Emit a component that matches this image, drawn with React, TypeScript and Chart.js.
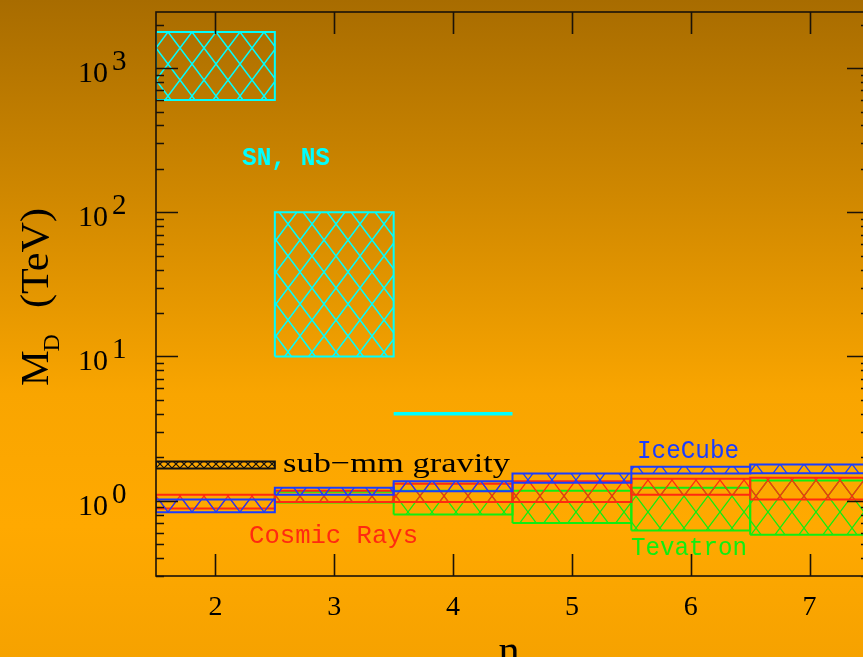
import React, { useEffect, useRef } from "react";
import { Chart, registerables } from "chart.js";
Chart.register(...registerables);

// ---- data ----
const nValues = [2, 3, 4, 5, 6, 7];
const cosmicLow = [0.88, 0.98, 0.98, 0.98, 1.1, 1.02];
const cosmicHigh = [1.1, 1.17, 1.31, 1.36, 1.42, 1.44];
const iceCubeLow = [0.83, 1.1, 1.16, 1.33, 1.54, 1.55];
const iceCubeHigh = [1.02, 1.23, 1.36, 1.54, 1.72, 1.78];
const tevatronN = [3, 4, 5, 6, 7];
const tevatronLow = [0.97, 0.8, 0.7, 0.62, 0.58];
const tevatronHigh = [1.15, 1.17, 1.17, 1.23, 1.38];
const snN = [2, 3];
const snLow = [600, 10];
const snHigh = [1780, 100];
const snLineN = [4];
const snLineValue = [4.0];
const subMmN = [2];
const subMmLow = [1.67];
const subMmHigh = [1.87];
const xTicks = [2, 3, 4, 5, 6, 7];
const yDecades = [0, 1, 2, 3];

const X_MIN = 1.5;
const X_MAX = 7.5;
const Y_MIN = 0.3;
const Y_MAX = 2450;

// annotation texts
const annotations = [
  { text: "SN, NS", n: 2.224, v: 212, color: "#00ffff", font: "bold 25px 'Liberation Mono'", width: 88 },
  { text: "sub\u2212mm gravity", n: 2.569, v: 1.59, color: "#000000", font: "28px 'Liberation Serif'", width: 227 },
  { text: "Cosmic Rays", n: 2.283, v: 0.51, color: "#ff2a10", font: "25px 'Liberation Mono'", width: 169 },
  { text: "IceCube", n: 5.548, v: 1.96, color: "#1a3cff", font: "25px 'Liberation Mono'", width: 102 },
  { text: "Tevatron", n: 5.497, v: 0.42, color: "#10ee10", font: "25px 'Liberation Mono'", width: 116 },
];

function boxPoints(n: number, lo: number, hi: number) {
  return [
    { x: n - 0.5, y: lo },
    { x: n + 0.5, y: lo },
    { x: n + 0.5, y: hi },
    { x: n - 0.5, y: hi },
    { x: n - 0.5, y: lo },
  ];
}

function makeHatch(color: string, w: number, h: number, lw: number) {
  const c = document.createElement("canvas");
  c.width = w;
  c.height = h;
  const g = c.getContext("2d")!;
  g.strokeStyle = color;
  g.lineWidth = lw;
  g.beginPath();
  g.moveTo(0, 0);
  g.lineTo(w, h);
  g.moveTo(0, h);
  g.lineTo(w, 0);
  g.stroke();
  return g.createPattern(c, "repeat")!;
}

function drawStretched(ctx: CanvasRenderingContext2D, text: string, x: number, y: number, width: number) {
  const m = ctx.measureText(text).width;
  ctx.save();
  ctx.translate(x, y);
  ctx.scale(width / m, 1);
  ctx.fillText(text, 0, 0);
  ctx.restore();
}

const bgPlugin = {
  id: "bg",
  beforeDraw(chart: any) {
    const { ctx, width, height } = chart;
    const g = ctx.createLinearGradient(0, 0, 0, height);
    g.addColorStop(0, "#a86c00");
    g.addColorStop(0.3, "#d08800");
    g.addColorStop(0.6, "#f9a500");
    g.addColorStop(0.8, "#ffa900");
    g.addColorStop(1, "#f6a200");
    ctx.save();
    ctx.fillStyle = g;
    ctx.fillRect(0, 0, width, height);
    ctx.restore();
  },
};

const framePlugin = {
  id: "frame",
  afterDatasetsDraw(chart: any) {
    const { ctx, chartArea } = chart;
    const { left, right, top, bottom } = chartArea;
    const xs = chart.scales.x;
    const ys = chart.scales.y;
    ctx.save();
    ctx.strokeStyle = "#1a1208";
    ctx.lineWidth = 1.6;
    ctx.strokeRect(left, top, right - left, bottom - top);
    ctx.beginPath();
    for (const v of xTicks) {
      const px = Math.round(xs.getPixelForValue(v)) + 0.5;
      ctx.moveTo(px, bottom);
      ctx.lineTo(px, bottom - 22);
      ctx.moveTo(px, top);
      ctx.lineTo(px, top + 22);
    }
    for (let d = -1; d <= 3; d++) {
      for (let m = 1; m <= 9; m++) {
        const val = m * Math.pow(10, d);
        if (val < Y_MIN - 1e-9 || val > Y_MAX) continue;
        const py = Math.round(ys.getPixelForValue(val)) + 0.5;
        const len = m === 1 ? 22 : 8;
        ctx.moveTo(left, py);
        ctx.lineTo(left + len, py);
        ctx.moveTo(right, py);
        ctx.lineTo(right - len, py);
      }
    }
    ctx.stroke();

    // tick labels
    ctx.fillStyle = "#000";
    ctx.textBaseline = "alphabetic";
    ctx.font = "28px 'Liberation Serif'";
    ctx.textAlign = "center";
    for (const v of xTicks) {
      const px = xs.getPixelForValue(v);
      ctx.fillText(String(v), px, 615);
    }
    for (const d of yDecades) {
      const py = ys.getPixelForValue(Math.pow(10, d));
      ctx.font = "30px 'Liberation Serif'";
      ctx.textAlign = "right";
      ctx.fillText("10", 108, py + 14);
      ctx.textAlign = "left";
      ctx.font = "29px 'Liberation Serif'";
      ctx.fillText(String(d), 112, py + 2);
    }

    // axis titles
    ctx.save();
    ctx.translate(48, 386);
    ctx.rotate(-Math.PI / 2);
    ctx.textAlign = "left";
    ctx.font = "40px 'Liberation Serif'";
    ctx.fillText("M", 0, 0);
    const mw = ctx.measureText("M").width;
    ctx.font = "24px 'Liberation Serif'";
    ctx.fillText("D", mw - 1, 11);
    ctx.font = "40px 'Liberation Serif'";
    drawStretched(ctx, "(TeV)", 78, 0, 100);
    ctx.restore();

    ctx.textAlign = "center";
    ctx.font = "42px 'Liberation Serif'";
    ctx.fillText("n", 509, 664);

    // annotations
    ctx.textAlign = "left";
    for (const a of annotations) {
      ctx.font = a.font;
      ctx.fillStyle = a.color;
      drawStretched(ctx, a.text, xs.getPixelForValue(a.n), ys.getPixelForValue(a.v), a.width);
    }
    ctx.restore();
  },
};

export default function App() {
  const ref = useRef<HTMLCanvasElement>(null);
  useEffect(() => {
    const canvas = ref.current!;
    const blueHatch = makeHatch("#1a3cff", 24, 32, 1.3);
    const redHatch = makeHatch("#ff2a10", 24, 32, 1.3);
    const greenHatch = makeHatch("#10ee10", 24, 32, 1.3);
    const cyanHatch = makeHatch("#00ffff", 24, 32, 1.5);
    const blackHatch = makeHatch("#111111", 8, 8, 1.2);

    const datasets: any[] = [];
    const boxDs = (pts: any[], color: string, pattern: any) => ({
      data: pts,
      borderColor: color,
      borderWidth: 2,
      backgroundColor: pattern,
      fill: "shape",
      pointRadius: 0,
      tension: 0,
    });
    nValues.forEach((n, i) => datasets.push(boxDs(boxPoints(n, iceCubeLow[i], iceCubeHigh[i]), "#1a3cff", blueHatch)));
    nValues.forEach((n, i) => datasets.push(boxDs(boxPoints(n, cosmicLow[i], cosmicHigh[i]), "#ff2a10", redHatch)));
    tevatronN.forEach((n, i) => datasets.push(boxDs(boxPoints(n, tevatronLow[i], tevatronHigh[i]), "#10ee10", greenHatch)));
    subMmN.forEach((n, i) => datasets.push(boxDs(boxPoints(n, subMmLow[i], subMmHigh[i]), "#111111", blackHatch)));
    snN.forEach((n, i) => datasets.push(boxDs(boxPoints(n, snLow[i], snHigh[i]), "#00ffff", cyanHatch)));
    snLineN.forEach((n, i) =>
      datasets.push({
        data: [
          { x: n - 0.5, y: snLineValue[i] },
          { x: n + 0.5, y: snLineValue[i] },
        ],
        borderColor: "#00ffff",
        borderWidth: 3.5,
        fill: false,
        pointRadius: 0,
      })
    );

    const chart = new Chart(canvas, {
      type: "line",
      data: { datasets },
      options: {
        animation: false,
        responsive: false,
        events: [],
        layout: { padding: { left: 156, top: 12, right: 11, bottom: 81 } },
        scales: {
          x: { type: "linear", min: X_MIN, max: X_MAX, display: false },
          y: { type: "logarithmic", min: Y_MIN, max: Y_MAX, display: false },
        },
        plugins: { legend: { display: false }, tooltip: { enabled: false } },
      },
      plugins: [bgPlugin, framePlugin],
    } as any);
    return () => chart.destroy();
  }, []);

  return (
    <div style={{ position: "absolute", left: 0, top: 0, width: 863, height: 657, overflow: "hidden" }}>
      <canvas ref={ref} width={880} height={657} style={{ display: "block", width: 880, height: 657 }} />
    </div>
  );
}
